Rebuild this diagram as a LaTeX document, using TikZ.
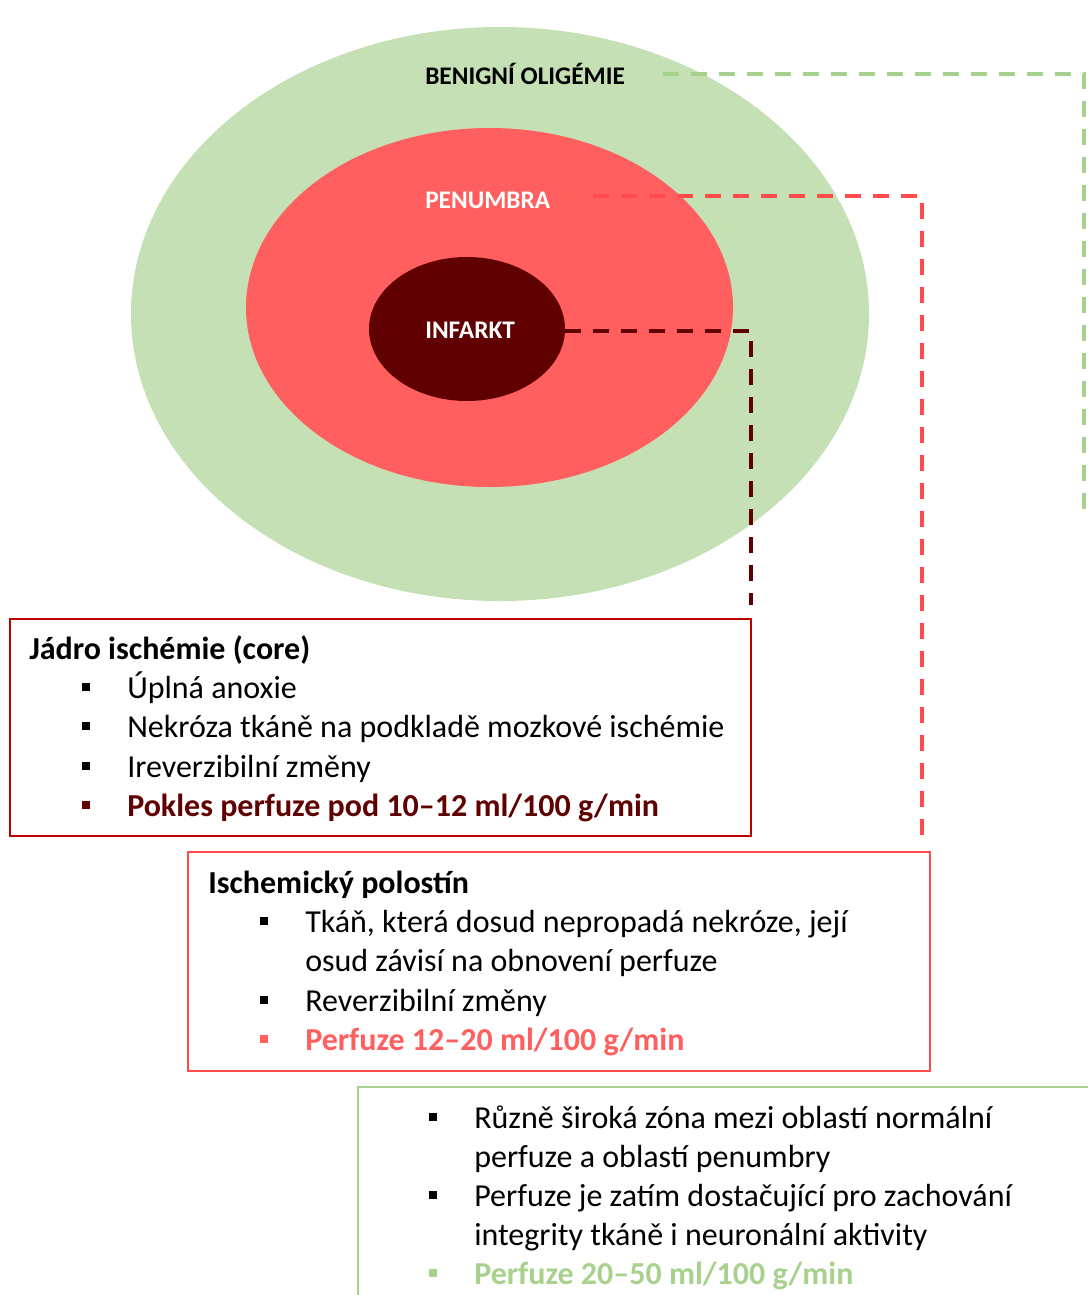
\documentclass[tikz,border=0pt]{standalone}
\usepackage{fontspec}
\setmainfont{Carlito}
\usetikzlibrary{shapes.geometric}

\definecolor{oligem}{HTML}{C5E0B4}
\definecolor{oligemdark}{HTML}{A9D18E}
\definecolor{penum}{HTML}{FF5F5F}
\definecolor{penumline}{HTML}{FF4B4B}
\definecolor{infark}{HTML}{600000}
\definecolor{coreframe}{HTML}{C00000}

\tikzset{
  zone/.style={ellipse, draw=none, inner sep=0pt},
  zonelbl/.style={anchor=west, inner sep=0pt, font=\fontsize{19}{21}\selectfont\bfseries,
    text height=12.2pt, text depth=0pt},
  link/.style={line width=3pt, dash pattern=on 12pt off 9pt},
  infobox/.style={draw, line width=1.5pt, anchor=north west, inner sep=0pt},
  txt/.style={anchor=base west, inner sep=0pt, font=\fontsize{24}{29}\selectfont},
  head/.style={txt, font=\fontsize{24}{29}\selectfont\bfseries},
  dot/.style={fill=black, minimum size=6pt, inner sep=0pt},
}

\begin{document}
\begin{tikzpicture}[%
      x=0.75pt, y=-0.75pt,
      ]
      \clip (0,0) rectangle (1088,1295);
      \useasboundingbox (0,0) rectangle (1088,1295);

      % the three zones
      \node[zone, fill=oligem, minimum width=553.5pt, minimum height=430.5pt] (oligemie) at (500,314) {};
      \node[zone, fill=penum, minimum width=365.25pt, minimum height=269.25pt] (penumbra) at (489.5,307.5) {};
      \node[zone, fill=infark, minimum width=147pt, minimum height=108pt] (infarkt) at (467,329) {};

      \node[zonelbl] (benign) at (425,76) {BENIGNÍ OLIGÉMIE};
      \node[zonelbl, text=white] (penlbl) at (425,200) {PENUMBRA};
      \node[zonelbl, text=white] (inflbl) at (425,330) {INFARKT};

      % boxes
      \node[infobox, draw=coreframe, minimum width=555.75pt, minimum height=162.75pt] (corebox) at (9,618) {};
      \node[infobox, draw=penumline, minimum width=556.5pt, minimum height=164.25pt] (penbox) at (187,851) {};
      \node[infobox, draw=oligemdark, minimum width=600pt, minimum height=300pt] (olibox) at (357,1086) {};

      % dashed links
      \coordinate (greenend) at (1084,510);
      \coordinate (redend) at (922,835);
      \coordinate (coreend) at (751,605);
      \draw[link, oligemdark, shorten <=28.5pt] ([yshift=1.5pt]benign.east) -| (greenend);
      \draw[link, penumline, shorten <=31.5pt] ([yshift=3pt]penlbl.east) -| (redend);
      \draw[link, infark] ([yshift=-1.5pt]infarkt.east) -| (coreend);

      % core text
      \node[head] (corehead) at (29,659) {Jádro ischémie (core)};
      \node[dot] (c1) at (86,687) {};
      \node[txt] at (127,698) {Úplná anoxie};
      \node[dot] (c2) at (86,726) {};
      \node[txt] at (127,737) {Nekróza tkáně na podkladě mozkové ischémie};
      \node[dot] (c3) at (86,766) {};
      \node[txt] at (127,777) {Ireverzibilní změny};
      \node[dot, fill=infark] (c4) at (86,805) {};
      \node[head, text=infark] at (127,816) {Pokles perfuze pod 10–12 ml/100 g/min};

      % penumbra text
      \node[head] (penhead) at (208,893) {Ischemický polostín};
      \node[dot] (p1) at (264,921) {};
      \node[txt] at (305,932) {Tkáň, která dosud nepropadá nekróze, její};
      \node[txt] at (305,971) {osud závisí na obnovení perfuze};
      \node[dot] (p2) at (264,1000) {};
      \node[txt] at (305,1011) {Reverzibilní změny};
      \node[dot, fill=penum] (p3) at (264,1039) {};
      \node[head, text=penum] at (305,1050) {Perfuze 12–20 ml/100 g/min};

      % oligemia text
      \node[dot] (o1) at (433,1117) {};
      \node[txt] at (474,1128) {Různě široká zóna mezi oblastí normální};
      \node[txt] at (474,1167) {perfuze a oblastí penumbry};
      \node[dot] (o2) at (433,1195) {};
      \node[txt] at (474,1206) {Perfuze je zatím dostačující pro zachování};
      \node[txt] at (474,1245) {integrity tkáně i neuronální aktivity};
      \node[dot, fill=oligemdark] (o3) at (433,1273) {};
      \node[head, text=oligemdark] at (474,1284) {Perfuze 20–50 ml/100 g/min};
\end{tikzpicture}
\end{document}
